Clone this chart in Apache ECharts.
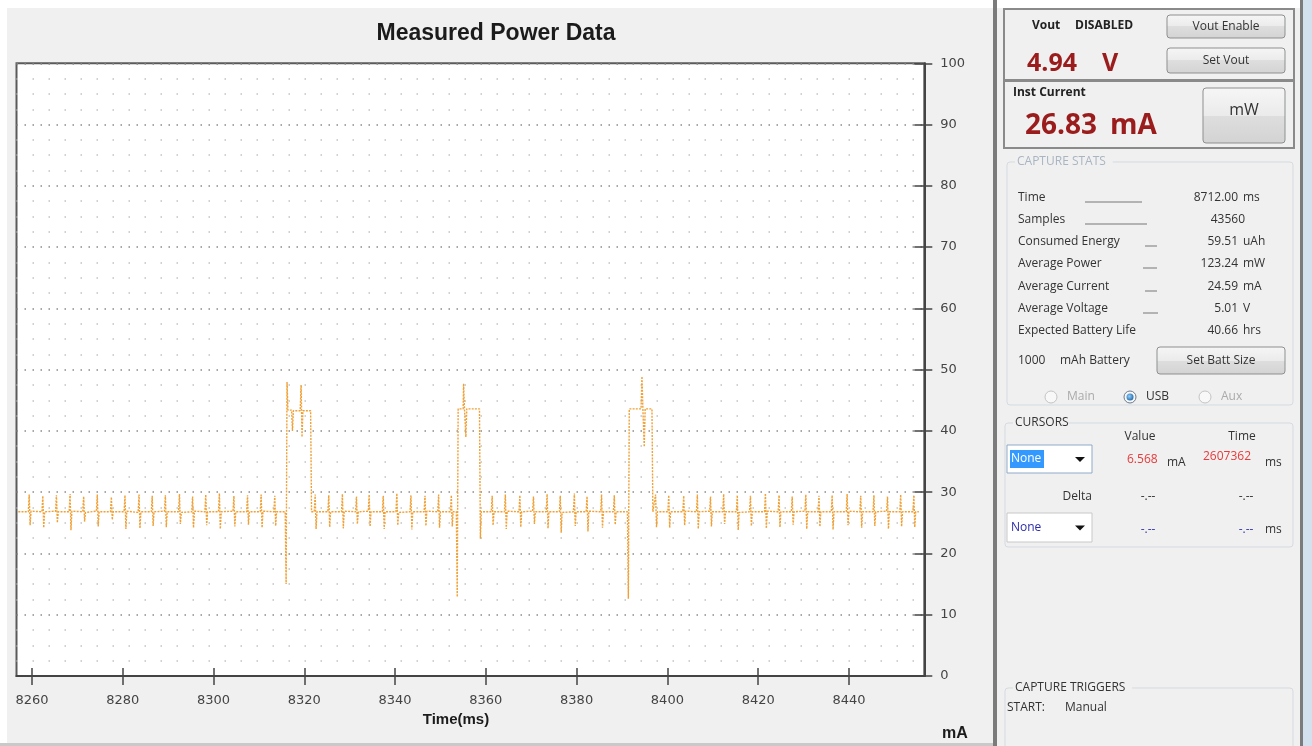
<!DOCTYPE html>
<html>
<head>
<meta charset="utf-8">
<title>Measured Power Data</title>
<script src="https://cdn.jsdelivr.net/npm/echarts@6.0.0/dist/echarts.min.js"></script>
<style>
    html, body { margin: 0; padding: 0; background: #fff; }
    #main { width: 1312px; height: 746px; }
</style>
</head>
<body>
<div id="main"></div>
<script>
// x axis (ms) and tick labels
var timeRange = [8256.6, 8456.6];
var timeTicks = [8260, 8280, 8300, 8320, 8340, 8360, 8380, 8400, 8420, 8440];
var currentRange = [0, 100];

var idleA = [
    [8257.0, 26.8],
    [8259.2, 26.8], [8259.4, 29.6], [8259.6, 24.6], [8259.8, 26.9],
    [8262.2, 26.8], [8262.4, 29.4], [8262.6, 24.2], [8262.8, 26.8],
    [8265.2, 26.9], [8265.4, 29.5], [8265.6, 25.0], [8265.8, 26.8],
    [8268.2, 26.8], [8268.4, 29.7], [8268.6, 23.8], [8268.8, 26.9],
    [8271.2, 26.8], [8271.4, 29.3], [8271.6, 25.2], [8271.8, 26.7],
    [8274.2, 26.9], [8274.4, 29.6], [8274.6, 24.4], [8274.8, 26.8],
    [8277.3, 26.8], [8277.5, 29.2], [8277.7, 25.5], [8277.9, 26.8],
    [8280.3, 26.8], [8280.5, 29.5], [8280.7, 24.0], [8280.9, 26.9],
    [8283.4, 26.7], [8283.6, 29.6], [8283.8, 24.1], [8284.0, 26.8],
    [8286.3, 26.8], [8286.5, 29.4], [8286.7, 24.5], [8286.9, 26.8],
    [8289.2, 26.9], [8289.4, 29.5], [8289.6, 24.3], [8289.8, 26.8],
    [8292.3, 26.8], [8292.5, 29.7], [8292.7, 24.8], [8292.9, 26.7],
    [8295.2, 26.8], [8295.4, 29.3], [8295.6, 24.2], [8295.8, 26.9],
    [8298.1, 26.8], [8298.3, 29.6], [8298.5, 24.6], [8298.7, 26.8],
    [8301.1, 26.8], [8301.3, 29.8], [8301.5, 24.0], [8301.7, 26.8],
    [8304.3, 26.9], [8304.5, 29.4], [8304.7, 24.4], [8304.9, 26.8],
    [8307.3, 26.8], [8307.5, 29.5], [8307.7, 24.7], [8307.9, 26.8],
    [8310.3, 26.8], [8310.5, 29.6], [8310.7, 24.2], [8310.9, 26.9],
    [8313.3, 26.8], [8313.5, 29.4], [8313.7, 24.5], [8313.9, 26.8]
];
var burst1 = [
    [8315.8, 26.8], [8316.0, 15.0], [8316.2, 48.0], [8316.4, 43.4], [8317.2, 43.4],
    [8317.4, 40.0], [8317.6, 43.3], [8319.1, 43.3], [8319.3, 47.5], [8319.5, 39.0],
    [8319.7, 43.3], [8321.4, 43.3], [8321.6, 26.8], [8322.2, 26.8], [8322.4, 29.6],
    [8322.6, 24.0], [8322.8, 26.8]
];
var idleB = [
    [8325.2, 26.8], [8325.4, 29.5], [8325.6, 24.3], [8325.8, 26.8],
    [8328.2, 26.8], [8328.4, 29.7], [8328.6, 24.1], [8328.8, 26.9],
    [8331.3, 26.8], [8331.5, 29.3], [8331.7, 24.8], [8331.9, 26.8],
    [8334.1, 26.9], [8334.3, 29.6], [8334.5, 24.4], [8334.7, 26.8],
    [8337.2, 26.8], [8337.4, 29.4], [8337.6, 24.0], [8337.8, 26.8],
    [8340.2, 26.8], [8340.4, 29.8], [8340.6, 24.6], [8340.8, 26.7],
    [8343.3, 26.8], [8343.5, 29.5], [8343.7, 23.9], [8343.9, 26.8],
    [8346.4, 26.8], [8346.6, 29.4], [8346.8, 24.5], [8347.0, 26.9],
    [8349.4, 26.8], [8349.6, 29.6], [8349.8, 24.2], [8350.0, 26.8],
    [8352.2, 26.8], [8352.4, 29.5], [8352.6, 24.4], [8352.8, 26.8]
];
var burst2 = [
    [8353.5, 26.8], [8353.7, 12.9], [8353.9, 43.6], [8355.0, 43.6], [8355.1, 47.7],
    [8355.3, 43.6], [8355.6, 39.0], [8355.8, 43.6], [8358.6, 43.6], [8358.8, 22.4],
    [8359.0, 26.8]
];
var idleC = [
    [8361.2, 26.8], [8361.4, 29.4], [8361.6, 24.6], [8361.8, 26.8],
    [8364.1, 26.8], [8364.3, 29.6], [8364.5, 24.0], [8364.7, 26.9],
    [8367.3, 26.8], [8367.5, 29.5], [8367.7, 24.3], [8367.9, 26.8],
    [8370.3, 26.9], [8370.5, 29.3], [8370.7, 24.8], [8370.9, 26.8],
    [8373.3, 26.8], [8373.5, 29.7], [8373.7, 24.1], [8373.9, 26.8],
    [8376.2, 26.8], [8376.4, 29.4], [8376.6, 23.4], [8376.8, 26.7],
    [8379.3, 26.8], [8379.5, 29.8], [8379.7, 24.5], [8379.9, 26.8],
    [8382.1, 26.8], [8382.3, 29.3], [8382.5, 23.6], [8382.7, 26.9],
    [8385.3, 26.8], [8385.5, 29.6], [8385.7, 24.2], [8385.9, 26.8],
    [8388.1, 26.8], [8388.3, 29.5], [8388.5, 24.7], [8388.7, 26.8]
];
var burst3 = [
    [8391.2, 26.8], [8391.4, 12.6], [8391.6, 43.6], [8394.2, 43.6], [8394.4, 48.9],
    [8394.6, 43.6], [8394.9, 37.4], [8395.1, 43.6], [8396.6, 43.6], [8396.8, 26.8],
    [8397.2, 26.8], [8397.4, 29.6], [8397.6, 24.3], [8397.8, 26.8]
];
var idleD = [
    [8400.1, 26.8], [8400.3, 29.5], [8400.5, 24.2], [8400.7, 26.8],
    [8403.4, 26.8], [8403.6, 29.4], [8403.8, 24.6], [8404.0, 26.9],
    [8406.4, 26.8], [8406.6, 29.6], [8406.8, 24.0], [8407.0, 26.8],
    [8409.3, 26.9], [8409.5, 29.3], [8409.7, 24.4], [8409.9, 26.8],
    [8412.2, 26.8], [8412.4, 29.7], [8412.6, 24.8], [8412.8, 26.8],
    [8415.2, 26.8], [8415.4, 29.5], [8415.6, 23.8], [8415.8, 26.7],
    [8418.1, 26.8], [8418.3, 29.4], [8418.5, 24.5], [8418.7, 26.8],
    [8421.4, 26.8], [8421.6, 29.8], [8421.8, 24.1], [8422.0, 26.9],
    [8424.4, 26.8], [8424.6, 29.5], [8424.8, 24.3], [8425.0, 26.8],
    [8427.3, 26.8], [8427.5, 29.3], [8427.7, 24.7], [8427.9, 26.8],
    [8430.3, 26.9], [8430.5, 29.6], [8430.7, 24.0], [8430.9, 26.8],
    [8433.2, 26.8], [8433.4, 29.4], [8433.6, 24.4], [8433.8, 26.8],
    [8436.1, 26.8], [8436.3, 29.5], [8436.5, 23.9], [8436.7, 26.8],
    [8439.4, 26.8], [8439.6, 29.7], [8439.8, 24.6], [8440.0, 26.9],
    [8442.4, 26.8], [8442.6, 29.4], [8442.8, 24.2], [8443.0, 26.8],
    [8445.3, 26.8], [8445.5, 29.5], [8445.7, 24.5], [8445.9, 26.8],
    [8448.3, 26.9], [8448.5, 29.3], [8448.7, 24.0], [8448.9, 26.8],
    [8451.2, 26.8], [8451.4, 29.6], [8451.6, 24.4], [8451.8, 26.8],
    [8454.1, 26.8], [8454.3, 29.5], [8454.5, 24.3], [8454.7, 26.8],
    [8455.4, 26.8]
];

// side panel readouts
var statNames = ['Time', 'Samples', 'Consumed Energy', 'Average Power', 'Average Current', 'Average Voltage', 'Expected Battery Life'];
var statValues = ['8712.00', '43560', '59.51', '123.24', '24.59', '5.01', '40.66'];
var statUnits = ['ms', '', 'uAh', 'mW', 'mA', 'V', 'hrs'];

var trace = [].concat(idleA, burst1, idleB, burst2, idleC, burst3, idleD);

var UI = '"Open Sans", "Noto Sans", sans-serif';
var AX = '"Liberation Sans", Arial, sans-serif';

function txt(x, y, s, o) {
    o = o || {};
    return {
        type: 'text', x: x, y: y, z: 20,
        style: {
            text: s, fill: o.color || '#333',
            font: o.font || ('12px ' + UI),
            align: o.align || 'left', verticalAlign: 'middle',
            textAlign: o.align || 'left', textVerticalAlign: 'middle'
        }
    };
}
function box(x, y, w, h, o) {
    o = o || {};
    return {
        type: 'rect', z: o.z || 10,
        shape: { x: x, y: y, width: w, height: h, r: o.r || 0 },
        style: { fill: o.fill || 'none', stroke: o.stroke || null, lineWidth: o.lw || 1 }
    };
}
function button(x, y, w, h, label, font, ty) {
    return [
        box(x, y, w, h, {
            r: 3, stroke: '#8e8f8f', z: 12,
            fill: { type: 'linear', x: 0, y: 0, x2: 0, y2: 1,
                colorStops: [{ offset: 0, color: '#f6f6f6' }, { offset: 0.5, color: '#ebebeb' }, { offset: 0.5, color: '#dedede' }, { offset: 1, color: '#d3d3d3' }] }
        }),
        txt(x + w / 2, ty || (y + h / 2), label, { align: 'center', font: font })
    ];
}
function hline(x1, x2, y, color, w) {
    return { type: 'line', z: 12, shape: { x1: x1, y1: y, x2: x2, y2: y }, style: { stroke: color || '#777', lineWidth: w || 1 } };
}
function radio(cx, cy, label, on) {
    var els = [{
        type: 'circle', z: 12, shape: { cx: cx, cy: cy, r: 6 },
        style: { fill: '#f8f8f8', stroke: on ? '#6d7b8c' : '#c4c4c4', lineWidth: 1 }
    }];
    if (on) {
        els.push({ type: 'circle', z: 13, shape: { cx: cx, cy: cy, r: 3.5 },
            style: { fill: { type: 'radial', x: 0.4, y: 0.4, r: 0.7, colorStops: [{ offset: 0, color: '#8fd0ff' }, { offset: 1, color: '#1b5fa0' }] } } });
    }
    els.push(txt(cx + 16, cy, label, { color: on ? '#333' : '#aaa' }));
    return els;
}
function dropdown(x, y, w, h, label, selected) {
    var els = [box(x, y, w, h, { fill: '#fff', stroke: selected ? '#8fa9c9' : '#c8c8c8', z: 12 })];
    if (selected) els.push(box(x + 3, y + 5, 34, h - 10, { fill: '#3399ff', z: 13 }));
    els.push(txt(x + 4, y + h / 2, label, { color: selected ? '#fff' : '#2b2ba8' }));
    els.push({ type: 'polygon', z: 13, shape: { points: [[x + w - 17, y + h / 2 - 2], [x + w - 7, y + h / 2 - 2], [x + w - 12, y + h / 2 + 3]] }, style: { fill: '#111' } });
    return els;
}
function groupBox(x, y, w, h, label, color) {
    return [
        box(x, y, w, h, { r: 3, stroke: '#d5dbe1', z: 11 }),
        box(x + 8, y - 7, label.length * 7.2 + 4, 14, { fill: '#f0f0f0', z: 12 }),
        txt(x + 10, y, label, { color: color || '#333' })
    ];
}

var panel = [];
function add(a) { panel = panel.concat(a); }

// page frame
add([
    box(0, 0, 1312, 8, { fill: '#fff', z: 1 }),
    box(0, 0, 7, 746, { fill: '#fff', z: 1 }),
    box(0, 743, 995, 3, { fill: '#c9c9c9', z: 1 }),
    box(993, 0, 4, 746, { fill: '#7b7b7b', z: 2 }),
    box(1300, 0, 3, 746, { fill: '#7b7b7b', z: 2 }),
    box(1303, 0, 9, 746, { fill: '#d3e1ef', z: 2 })
]);

// Vout box
add([
    box(1004, 9, 290, 71, { stroke: '#8a8a8a', lw: 2 }),
    txt(1032, 26, 'Vout', { font: 'bold 12px ' + UI, color: '#222' }),
    txt(1075, 26, 'DISABLED', { font: 'bold 12px ' + UI, color: '#222' }),
    txt(1027, 64, '4.94', { font: 'bold 25px ' + UI, color: '#9b1c1c' }),
    txt(1102, 64, 'V', { font: 'bold 25px ' + UI, color: '#9b1c1c' })
]);
add(button(1167, 15, 118, 23, 'Vout Enable'));
add(button(1167, 48, 118, 25, 'Set Vout'));

// instant current box
add([
    box(1004, 81, 290, 67, { stroke: '#8a8a8a', lw: 2 }),
    txt(1013, 93, 'Inst Current', { font: 'bold 12px ' + UI, color: '#222' }),
    txt(1025, 126, '26.83', { font: 'bold 28px ' + UI, color: '#9b1c1c' }),
    txt(1110, 126, 'mA', { font: 'bold 28px ' + UI, color: '#9b1c1c' })
]);
add(button(1203, 88, 82, 55, 'mW', '16px ' + UI, 110));

// capture stats
add(groupBox(1007, 162, 286, 243, 'CAPTURE STATS', '#a9b5c2'));
var statY = [198, 220, 242, 264, 287, 309, 331];
var leader = [[1085, 1142], [1085, 1147], [1145, 1157], [1143, 1157], [1145, 1157], [1143, 1158], null];
statNames.forEach(function (name, i) {
    add(txt(1018, statY[i], name));
    if (leader[i]) add(hline(leader[i][0], leader[i][1], statY[i] + 4, '#777', 1));
    if (statUnits[i]) {
        add(txt(1238, statY[i], statValues[i], { align: 'right' }));
        add(txt(1243, statY[i], statUnits[i]));
    } else {
        add(txt(1245, statY[i], statValues[i], { align: 'right' }));
    }
});
add([txt(1018, 361, '1000'), txt(1060, 361, 'mAh Battery')]);
add(button(1157, 347, 128, 27, 'Set Batt Size'));
add(radio(1051, 397, 'Main', false));
add(radio(1130, 397, 'USB', true));
add(radio(1205, 397, 'Aux', false));

// cursors
add(groupBox(1005, 423, 288, 124, 'CURSORS'));
add([
    txt(1140, 437, 'Value', { align: 'center' }),
    txt(1242, 437, 'Time', { align: 'center' }),
    txt(1127, 460, '6.568', { color: '#e83a3a' }),
    txt(1167, 463, 'mA'),
    txt(1203, 457, '2607362', { color: '#e83a3a' }),
    txt(1265, 463, 'ms'),
    txt(1092, 497, 'Delta', { align: 'right' }),
    txt(1148, 497, '-.--', { align: 'center' }),
    txt(1246, 497, '-.--', { align: 'center' }),
    txt(1148, 530, '-.--', { align: 'center', color: '#3a3ab0' }),
    txt(1246, 530, '-.--', { align: 'center', color: '#3a3ab0' }),
    txt(1265, 530, 'ms')
]);
add(dropdown(1007, 445, 85, 28, 'None', true));
add(dropdown(1007, 513, 85, 29, 'None', false));

// capture triggers
add(groupBox(1005, 688, 288, 70, 'CAPTURE TRIGGERS'));
add([txt(1007, 708, 'START:'), txt(1065, 708, 'Manual')]);

// chart labels
add([
    txt(496, 34, 'Measured Power Data', { align: 'center', font: 'bold 23px ' + AX, color: '#1b1b1b' }),
    txt(456, 720, 'Time(ms)', { align: 'center', font: 'bold 15px ' + AX, color: '#1b1b1b' }),
    txt(955, 734, 'mA', { align: 'center', font: 'bold 16px ' + AX, color: '#1b1b1b' })
]);

var chart = echarts.init(document.getElementById('main'), null, { renderer: 'canvas' });

var option = {
    animation: false,
    backgroundColor: '#f0f0f0',
    grid: {
        left: 16.5, right: 387.7, top: 63.3, bottom: 70,
        show: true, backgroundColor: '#fff', borderColor: '#5a5a5a', borderWidth: 2
    },
    xAxis: [
        {
            type: 'value', min: timeRange[0], max: timeRange[1], position: 'bottom',
            axisLine: { show: true, lineStyle: { color: '#444', width: 2 } },
            axisTick: { show: true, length: 9, customValues: timeTicks, lineStyle: { color: '#444', width: 1.5 } },
            axisLabel: {
                customValues: timeTicks, margin: 18, color: '#444', fontSize: 13, fontFamily: 'DejaVu Sans',
                formatter: function (v) { return String(v); }
            },
            splitLine: { show: false }
        },
        {
            type: 'value', min: timeRange[0], max: timeRange[1], position: 'bottom',
            axisLine: { show: false },
            axisTick: { show: true, inside: true, length: 8, customValues: timeTicks, lineStyle: { color: '#444', width: 1.5 } },
            axisLabel: { show: false },
            splitLine: { show: false }
        }
    ],
    yAxis: [
        {
            type: 'value', min: currentRange[0], max: currentRange[1], interval: 10, position: 'right',
            axisLine: { show: true, lineStyle: { color: '#444', width: 2 } },
            axisTick: { show: true, length: 8, lineStyle: { color: '#444', width: 1.5 } },
            axisLabel: { margin: 16, color: '#444', fontSize: 13, fontFamily: 'DejaVu Sans' },
            splitLine: { show: true, lineStyle: { color: '#8a8a8a', width: 1.5, type: [1.5, 6.5] } },
            minorTick: { show: false, splitNumber: 4 },
            minorSplitLine: { show: true, lineStyle: { color: '#c2c2c2', width: 1.5, type: [1.5, 14.5] } }
        },
        {
            type: 'value', min: currentRange[0], max: currentRange[1], interval: 10, position: 'right',
            axisLine: { show: false },
            axisTick: { show: true, inside: true, length: 10, lineStyle: { color: '#444', width: 1.5 } },
            axisLabel: { show: false },
            splitLine: { show: false }
        }
    ],
    series: [
        {
            type: 'line', name: 'Current', xAxisIndex: 0, yAxisIndex: 0,
            showSymbol: false, symbol: 'none',
            lineStyle: { color: '#f0a035', width: 1.4, type: [2, 1.2] },
            data: trace
        }
    ],
    graphic: { elements: panel }
};

chart.setOption(option);
window.addEventListener('resize', chart.resize);
</script>
</body>
</html>
